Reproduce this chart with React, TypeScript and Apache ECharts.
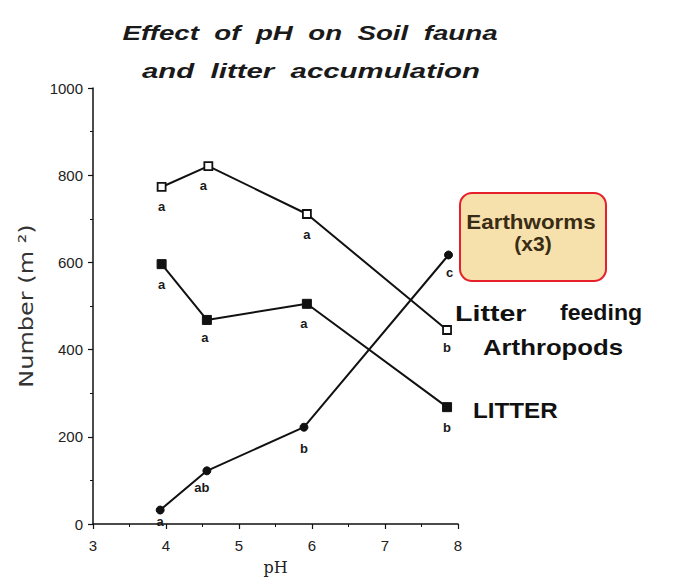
import React, { useEffect, useRef } from "react";
import * as echarts from "echarts";

// pH values and numbers (per m²)
const arthropodPH = [3.94, 4.58, 5.93, 7.85];
const arthropodValues = [773, 821, 711, 445];
const arthropodLetters = ["a", "a", "a", "b"];

const litterPH = [3.94, 4.56, 5.93, 7.85];
const litterValues = [596, 468, 505, 268];
const litterLetters = ["a", "a", "a", "b"];

const earthwormPH = [3.92, 4.56, 5.89, 7.87];
const earthwormValues = [32, 122, 222, 617];
const earthwormLetters = ["a", "ab", "b", "c"];

const titleLines = ["Effect  of  pH  on  Soil  fauna", "and  litter  accumulation"];
const yAxisTitle = "Number (m ²)";
const xTicks = [3, 4, 5, 6, 7, 8];
const yTicks = [0, 200, 400, 600, 800, 1000];

const FONT = "Liberation Sans, Arial, sans-serif";

function buildData(xs: number[], ys: number[], letters: string[], offsets: number[][]) {
  return xs.map((x, i) => ({
    value: [x, ys[i]],
    label: {
      show: true,
      position: "bottom",
      distance: 8,
      offset: offsets[i] || [0, 0],
      formatter: letters[i],
      color: "#1a1a1a",
      fontFamily: FONT,
      fontWeight: "bold",
      fontSize: 13,
    },
  }));
}

function word(text: string, x: number, y: number, size: number, scaleX: number, fill: string, italic = false) {
  return {
    type: "text",
    x,
    y,
    scaleX,
    style: {
      text,
      x: 0,
      y: 0,
      align: "left",
      verticalAlign: "middle",
      font: (italic ? "italic " : "") + "bold " + size + "px " + FONT,
      fill,
    },
  };
}

function centered(text: string, x: number, y: number, size: number, scaleX: number, fill: string, italic = false) {
  const w = word(text, x, y, size, scaleX, fill, italic);
  (w.style as any).align = "center";
  return w;
}

export default function App() {
  const ref = useRef<HTMLDivElement>(null);
  useEffect(() => {
    if (!ref.current) return;
    const chart = echarts.init(ref.current, null, { renderer: "svg" });
    const lineStyle = { color: "#111", width: 2 };
    chart.setOption({
      animation: false,
      backgroundColor: "#ffffff",
      grid: { left: 93, right: 220, top: 88, bottom: 55, outerBoundsMode: "none", containLabel: false },
      xAxis: {
        type: "value",
        min: xTicks[0],
        max: xTicks[xTicks.length - 1],
        interval: 1,
        name: "pH",
        nameLocation: "middle",
        nameGap: 35,
        nameTextStyle: { fontFamily: "DejaVu Serif, serif", fontSize: 16, color: "#222" },
        axisLine: { lineStyle: { color: "#111", width: 1.5 } },
        axisTick: { show: true, length: 5, lineStyle: { color: "#111", width: 1.2 } },
        minorTick: { show: true, splitNumber: 2, length: 3, lineStyle: { color: "#111" } },
        splitLine: { show: false },
        axisLabel: { fontFamily: FONT, fontSize: 15, color: "#222", margin: 14 },
      },
      yAxis: {
        type: "value",
        min: yTicks[0],
        max: yTicks[yTicks.length - 1],
        interval: 200,
        axisLine: { show: true, lineStyle: { color: "#111", width: 1.5 } },
        axisTick: { show: true, length: 5, lineStyle: { color: "#111", width: 1.2 } },
        minorTick: { show: true, splitNumber: 2, length: 3, lineStyle: { color: "#111" } },
        splitLine: { show: false },
        axisLabel: {
          fontFamily: FONT,
          fontSize: 15,
          color: "#222",
          margin: 10,
          formatter: (v: number) => String(v),
        },
      },
      series: [
        {
          name: "Litter feeding Arthropods",
          type: "line",
          data: buildData(arthropodPH, arthropodValues, arthropodLetters, [[0, 0], [-5, 0], [0, 1], [0, -2]]),
          symbol: "rect",
          symbolSize: 8,
          itemStyle: { color: "#ffffff", borderColor: "#111", borderWidth: 1.8 },
          lineStyle,
          z: 3,
        },
        {
          name: "LITTER",
          type: "line",
          data: buildData(litterPH, litterValues, litterLetters, [[0, 1], [-2, -2], [-3, 0], [0, 1]]),
          symbol: "rect",
          symbolSize: 9,
          itemStyle: { color: "#111", borderColor: "#111" },
          lineStyle,
          z: 3,
        },
        {
          name: "Earthworms (x3)",
          type: "line",
          data: buildData(earthwormPH, earthwormValues, earthwormLetters, [[0, -8], [-5, -2], [0, 2], [1, -1]]),
          symbol: "circle",
          symbolSize: 8,
          itemStyle: { color: "#111", borderColor: "#111" },
          lineStyle,
          z: 3,
        },
      ],
      graphic: [
        centered(titleLines[0], 310, 33, 21, 1.32, "#1a1a1a", true),
        centered(titleLines[1], 311, 71, 21, 1.4, "#1a1a1a", true),
        {
          type: "text",
          x: 26,
          y: 306,
          rotation: Math.PI / 2,
          scaleX: 1.2,
          style: {
            text: yAxisTitle,
            x: 0,
            y: 0,
            align: "center",
            verticalAlign: "middle",
            font: "20px DejaVu Sans, sans-serif",
            fill: "#333",
          },
        },
        {
          type: "rect",
          shape: { x: 460, y: 193, width: 146, height: 88, r: 12 },
          style: { fill: "#f6e1ad", stroke: "#e5202a", lineWidth: 2 },
        },
        centered("Earthworms", 531, 222, 20, 1.12, "#3a2c14"),
        centered("(x3)", 533, 244, 20, 1.05, "#3a2c14"),
        word("Litter", 455, 313, 22, 1.3, "#111"),
        word("feeding", 560, 313, 22, 1.05, "#111"),
        word("Arthropods", 483, 347, 22, 1.17, "#111"),
        word("LITTER", 473, 410, 22, 1.1, "#111"),
      ],
    });
    return () => chart.dispose();
  }, []);
  return <div ref={ref} style={{ width: 678, height: 579, position: "absolute", left: 0, top: 0 }} />;
}
